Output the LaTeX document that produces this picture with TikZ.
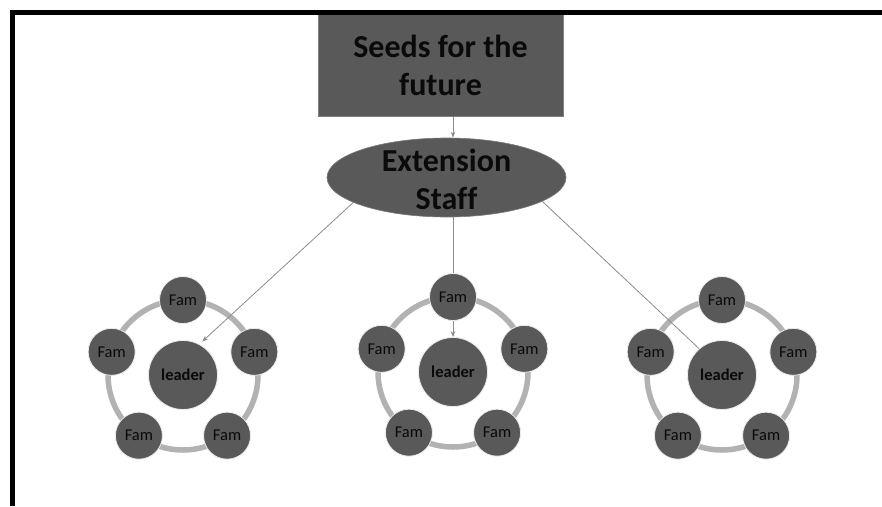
\documentclass[tikz,border=0pt]{standalone}
\usepackage{fontspec}
\setmainfont{Carlito}[Ligatures=NoCommon]
\usetikzlibrary{shapes.geometric,arrows.meta,calc}
\definecolor{darkfill}{HTML}{595959}
\definecolor{ringcol}{HTML}{B2B2B2}
\definecolor{conncol}{HTML}{8C8C8C}
\definecolor{txtcol}{HTML}{0A0A0A}
\pgfdeclarelayer{bg}
\pgfdeclarelayer{mid}
\pgfsetlayers{bg,mid,main}
\tikzset{
  titlebox/.style={rectangle, fill=darkfill, draw=gray, line width=0.8pt, minimum width=245pt, minimum height=102pt, inner sep=0pt, text=txtcol, align=center, font=\fontsize{32}{38}\selectfont\bfseries},
  staffell/.style={ellipse, fill=darkfill, draw=darkfill!80!white, line width=0.6pt, minimum width=239pt, minimum height=79pt, inner sep=0pt},
  bigtext/.style={text=txtcol, align=center, font=\fontsize{32}{38}\selectfont\bfseries, inner sep=0pt},
  famnode/.style={circle, fill=darkfill, draw=white!85!gray, line width=0.8pt, minimum size=47pt, inner sep=0pt, text=txtcol, font=\fontsize{16.5}{18}\selectfont},
  leadnode/.style={circle, fill=darkfill, draw=white!85!gray, line width=0.8pt, minimum size=69pt, inner sep=0pt, text=txtcol, font=\fontsize{16.5}{18}\selectfont\bfseries},
  ringline/.style={draw=ringcol, line width=5.5pt},
  conn/.style={draw=conncol, line width=0.8pt},
  tip/.style={-{Stealth[length=6pt,width=4.5pt]}},
  frameline/.style={draw=black, line width=5pt}
}
\begin{document}
\begin{tikzpicture}[x=1pt,y=-1pt]
\useasboundingbox (0,0) rectangle (882,506);
\begin{pgfonlayer}{bg}
  \fill[white] (0,0) rectangle (882,506);
\end{pgfonlayer}

% top box and ellipse
\node[titlebox] (S) at (440.5,65) {Seeds for the\\future};
\node[staffell] (E) at (446.5,177.5) {};
\node[bigtext] (Et) at (446.5,179) {Extension\\Staff};

% clusters
\foreach \i/\cx/\cy in {1/183/375, 2/453/372, 3/722/375}{
  \begin{pgfonlayer}{bg}
    \draw[ringline] (\cx,\cy) circle[radius=75pt];
  \end{pgfonlayer}
  \node[leadnode] (L\i) at (\cx,\cy) {leader};
  \node[famnode] (F\i a) at ([shift={(90:75pt)}]\cx,\cy) {Fam};
  \node[famnode] (F\i b) at ([shift={(162:75pt)}]\cx,\cy) {Fam};
  \node[famnode] (F\i c) at ([shift={(18:75pt)}]\cx,\cy) {Fam};
  \node[famnode] (F\i d) at ([shift={(234:75pt)}]\cx,\cy) {Fam};
  \node[famnode] (F\i e) at ([shift={(306:75pt)}]\cx,\cy) {Fam};
}

% connectors
\begin{pgfonlayer}{mid}
  \draw[conn,tip] (S.south -| L2) -- (E.north -| L2);
  \draw[conn,tip,shorten >=4pt] (E.195) -- (L1.62);
  \draw[conn,tip] (E.south -| L2) -- (L2.north);
  \draw[conn] (E.346) -- (L3.131);
\end{pgfonlayer}

% frame
\draw[frameline] (12.5,506) -- (12.5,12) -- (882,12);
\end{tikzpicture}
\end{document}
